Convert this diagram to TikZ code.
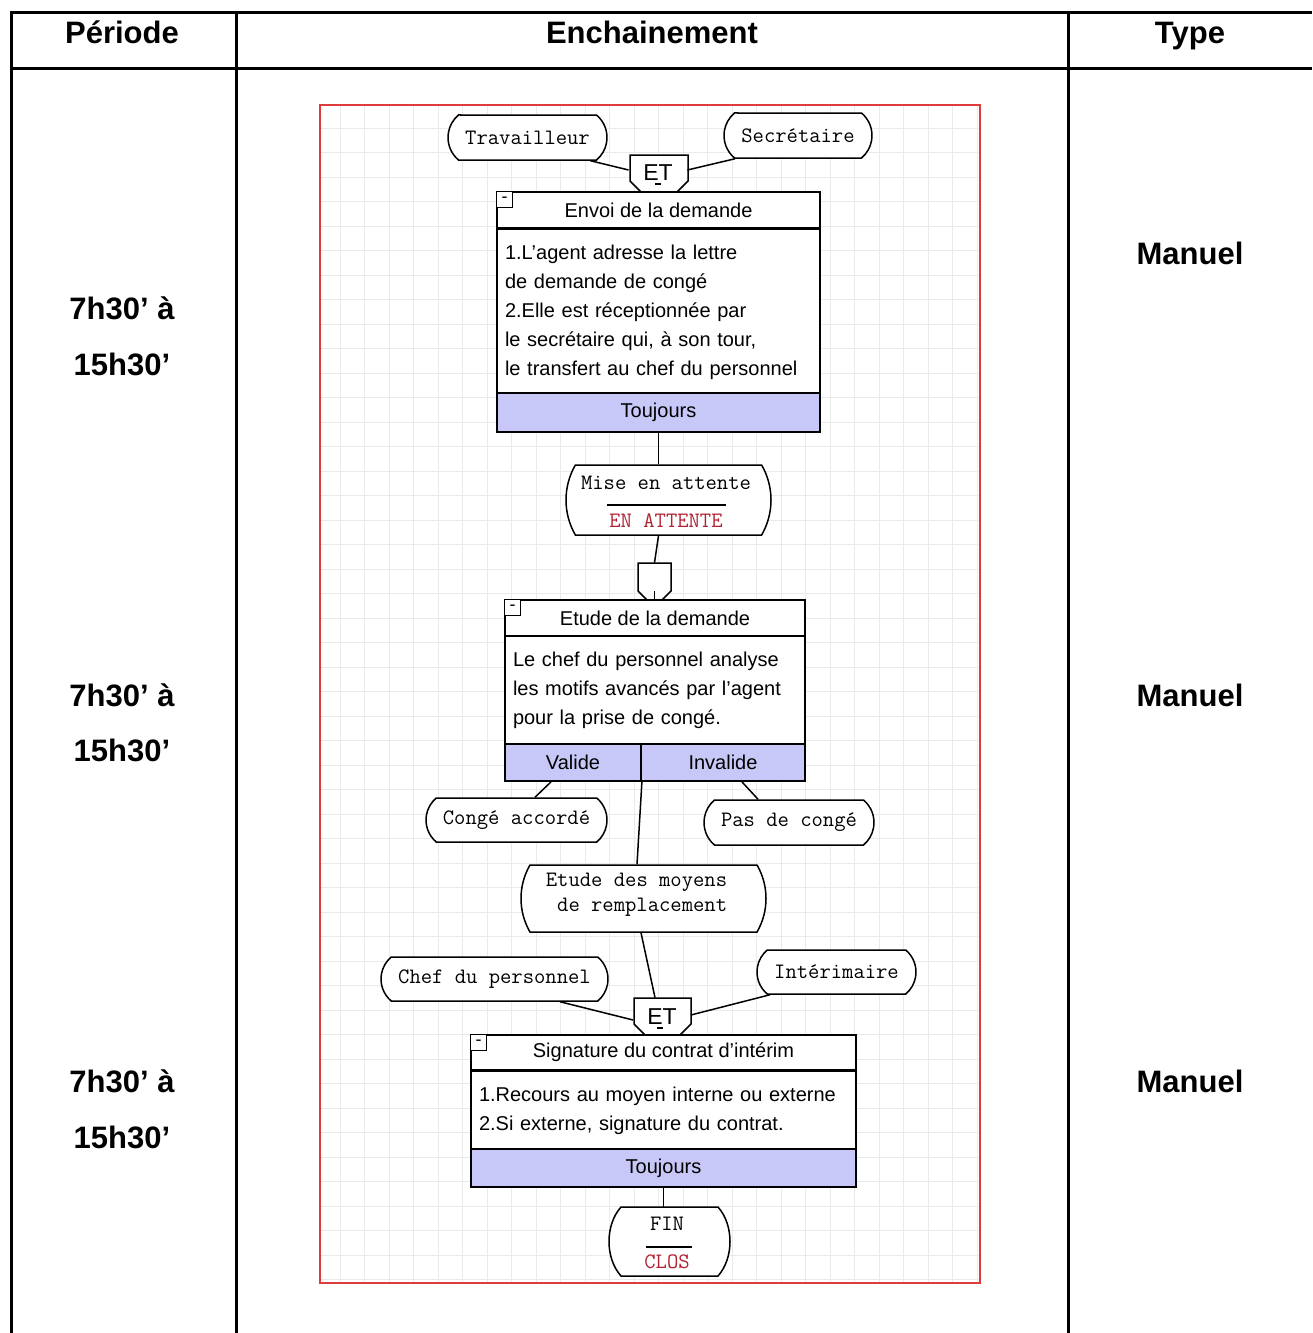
\documentclass[tikz,border=0pt]{standalone}
\usepackage{fontspec}
\setmainfont{Liberation Sans}
\usetikzlibrary{shapes.misc,calc}
\definecolor{lav}{RGB}{200,200,248}
\definecolor{etatred}{RGB}{178,34,52}
\definecolor{framered}{RGB}{222,60,60}
\definecolor{gridgray}{RGB}{234,234,234}
\tikzset{
  tabline/.style={line width=1.5pt, black},
  hd/.style={font=\bfseries\fontsize{15.5}{18}\selectfont, inner sep=0pt, text height=11pt, text depth=0pt},
  term/.style={rounded rectangle, rounded rectangle arc length=100, draw, fill=white,
    line width=0.75pt, inner sep=0pt, font=\ttfamily\fontsize{11}{12.5}\selectfont},
  bigterm/.style={term, rounded rectangle arc length=60},
  termtext/.style={inner sep=0pt, font=\ttfamily\fontsize{11}{12.5}\selectfont},
  cell/.style={draw, line width=0.9pt, inner sep=0pt, font=\fontsize{10}{14.5}\selectfont},
  titlecell/.style={cell, fill=white},
  bodycell/.style={cell, fill=white, align=left, inner xsep=4pt},
  footcell/.style={cell, fill=lav},
  minusbox/.style={draw, line width=0.6pt, fill=white, minimum size=8pt, inner sep=0pt,
    font=\fontsize{9}{9}\selectfont},
  gatenode/.style={inner sep=0pt, font=\fontsize{11.5}{12}\selectfont},
  gateline/.style={line width=0.75pt, fill=white},
  conn/.style={line width=0.75pt},
}
\begin{document}
\begin{tikzpicture}[x=0.5pt,y=-0.5pt]
\useasboundingbox (0,0) rectangle (1312,1333);
\fill[white] (0,0) rectangle (1312,1333);

% ---- table frame ----
\draw[tabline] (11,1333) -- (11,12) -- (1312,12);
\draw[tabline] (11,68) -- (1312,68);
\draw[tabline] (236,12) -- (236,1333);
\draw[tabline] (1068,12) -- (1068,1333);

\node[hd] (hper) at (122,32) {Période};
\node[hd] (hench) at (652,32) {Enchainement};
\node[hd] (htype) at (1190,32) {Type};

\node[hd] (p1a) at (122,308) {7h30’ à};
\node[hd] (p1b) at (122,364) {15h30’};
\node[hd] (p2a) at (122,695) {7h30’ à};
\node[hd] (p2b) at (122,750) {15h30’};
\node[hd] (p3a) at (122,1081) {7h30’ à};
\node[hd] (p3b) at (122,1137) {15h30’};

\node[hd] (ty1) at (1190,253) {Manuel};
\node[hd] (ty2) at (1190,695) {Manuel};
\node[hd] (ty3) at (1190,1081) {Manuel};

% ---- workflow canvas ----
\fill[white] (320,105) rectangle (980,1283);
\foreach \gx in {340,364.5,...,978}
  \draw[gridgray, line width=0.5pt] (\gx,106) -- (\gx,1282);
\foreach \gy in {128,152.5,...,1281}
  \draw[gridgray, line width=0.5pt] (321,\gy) -- (979,\gy);
\draw[framered, line width=1pt] (320,105) rectangle (980,1283);

% ---- step 1 ----
\node[term, minimum width=79.5pt, minimum height=22.5pt] (trav) at (527.5,137.5) {Travailleur};
\node[term, minimum width=74pt, minimum height=22.5pt] (sec) at (798,135.5) {Secrétaire};

\filldraw[gateline] (641,192) -- (630,181) -- (630,155) -- (688,155) -- (688,181) -- (677,192) -- cycle;
\node[gatenode, minimum width=29pt, minimum height=18pt] (g1) at (658,173) {ET};
\draw[line width=0.6pt] (655,184) -- (661,184);

\draw[conn] ($(trav.south)+(63,0)$) -- ($(g1.west)+(0,-3)$);
\draw[conn] ($(sec.south)+(-63,0)$) -- ($(g1.east)+(0,-3)$);

\node[titlecell, minimum width=161.5pt, minimum height=18pt] (t1) at (658.5,210) {Envoi de la demande};
\node[bodycell, text width=153.5pt, minimum height=82.5pt] (b1) at (658.5,312)
  {1.L'agent adresse la lettre\\de demande de congé\\2.Elle est réceptionnée par\\le secrétaire qui, à son tour,\\le transfert au chef du personnel};
\node[footcell, minimum width=161.5pt, minimum height=19.5pt] (f1) at (658.5,412.5) {Toujours};
\node[minusbox, anchor=north west] (m1) at (t1.north west) {-};

% ---- waiting state ----
\node[bigterm, minimum width=102.5pt, minimum height=35pt] (mise) at (668.5,500) {};
\node[termtext] (mise1) at (666,483) {Mise en attente};
\draw[line width=0.75pt] (607,505) -- (726,505);
\node[termtext, text=etatred] (mise2) at (666,521) {EN ATTENTE};
\draw[conn] (f1.south) -- (f1.south |- mise.north);

% ---- step 2 ----
\filldraw[gateline] (647,600) -- (638,591) -- (638,563) -- (671,563) -- (671,591) -- (662,600) -- cycle;
\node[gatenode, minimum width=16.5pt, minimum height=18.5pt] (g2) at (654.5,581.5) {};
\draw[conn] (mise.south -| f1.south) -- (g2.north);

\node[titlecell, minimum width=150pt, minimum height=18pt] (t2) at (655,618) {Etude de la demande};
\node[bodycell, text width=142pt, minimum height=54pt] (b2) at (655,690)
  {Le chef du personnel analyse\\les motifs avancés par l'agent\\pour la prise de congé.};
\node[footcell, minimum width=68pt, minimum height=18.5pt] (val) at (573,762.5) {Valide};
\node[footcell, minimum width=82pt, minimum height=18.5pt] (inv) at (723,762.5) {Invalide};
\node[minusbox, anchor=north west] (m2) at (t2.north west) {-};
\draw[conn] ($(g2.south)+(0,-9)$) -- (t2.north -| g2.south);

\node[term, minimum width=90.5pt, minimum height=22pt] (conge) at (516.5,820) {Congé accordé};
\node[term, minimum width=85pt, minimum height=22.5pt] (pas) at (789,822.5) {Pas de congé};
\draw[conn] ($(val.south)+(-22,0)$) -- ($(conge.north)+(18.5,0)$);
\draw[conn] ($(inv.south)+(19,0)$) -- ($(pas.north)+(-31,0)$);

\node[bigterm, minimum width=122.5pt, minimum height=33.5pt] (etm) at (643.5,898.5) {};
\node[termtext, align=left] (etmt) at (636.5,895) {Etude des moyens\\\phantom{x}de remplacement};
\draw[conn] (val.south east) -- ($(etm.north)+(-6.5,0)$);

% ---- step 3 ----
\node[term, minimum width=113.5pt, minimum height=22pt] (chef) at (494.5,979) {Chef du personnel};
\node[term, minimum width=79.5pt, minimum height=22pt] (int) at (836.5,972) {Intérimaire};

\filldraw[gateline] (645,1035) -- (634,1024) -- (634,998) -- (691,998) -- (691,1024) -- (680,1035) -- cycle;
\node[gatenode, minimum width=28.5pt, minimum height=18.5pt] (g3) at (662,1016.5) {ET};
\draw[line width=0.6pt] (657,1028) -- (663,1028);

\draw[conn] ($(etm.south)+(-2.5,0)$) -- ($(g3.north)+(-7,0)$);
\draw[conn] ($(chef.south)+(65.5,0)$) -- ($(g3.west)+(0,3.5)$);
\draw[conn] ($(int.south)+(-66.5,0)$) -- ($(g3.east)+(0,-1.5)$);

\node[titlecell, minimum width=192.5pt, minimum height=17.5pt] (t3) at (663.5,1052.5) {Signature du contrat d'intérim};
\node[bodycell, text width=184.5pt, minimum height=39.5pt] (b3) at (663.5,1111)
  {1.Recours au moyen interne ou externe\\2.Si externe, signature du contrat.};
\node[footcell, minimum width=192.5pt, minimum height=19pt] (f3) at (663.5,1168) {Toujours};
\node[minusbox, anchor=north west] (m3) at (t3.north west) {-};

% ---- end state (narrow terminal, outline drawn by hand) ----
\filldraw[line width=0.75pt, fill=white]
  (621,1207) -- (718,1207) .. controls (734,1225) and (734,1258) .. (718,1276)
  -- (621,1276) .. controls (605,1258) and (605,1225) .. (621,1207) -- cycle;
\node[inner sep=0pt, minimum width=61.5pt, minimum height=34.5pt] (fin) at (669.5,1241.5) {};
\node[termtext] (fin1) at (667,1224) {FIN};
\draw[line width=0.75pt] (646,1247) -- (692,1247);
\node[termtext, text=etatred] (fin2) at (667,1262) {CLOS};
\draw[conn] (f3.south) -- (f3.south |- fin.north);
\end{tikzpicture}
\end{document}
